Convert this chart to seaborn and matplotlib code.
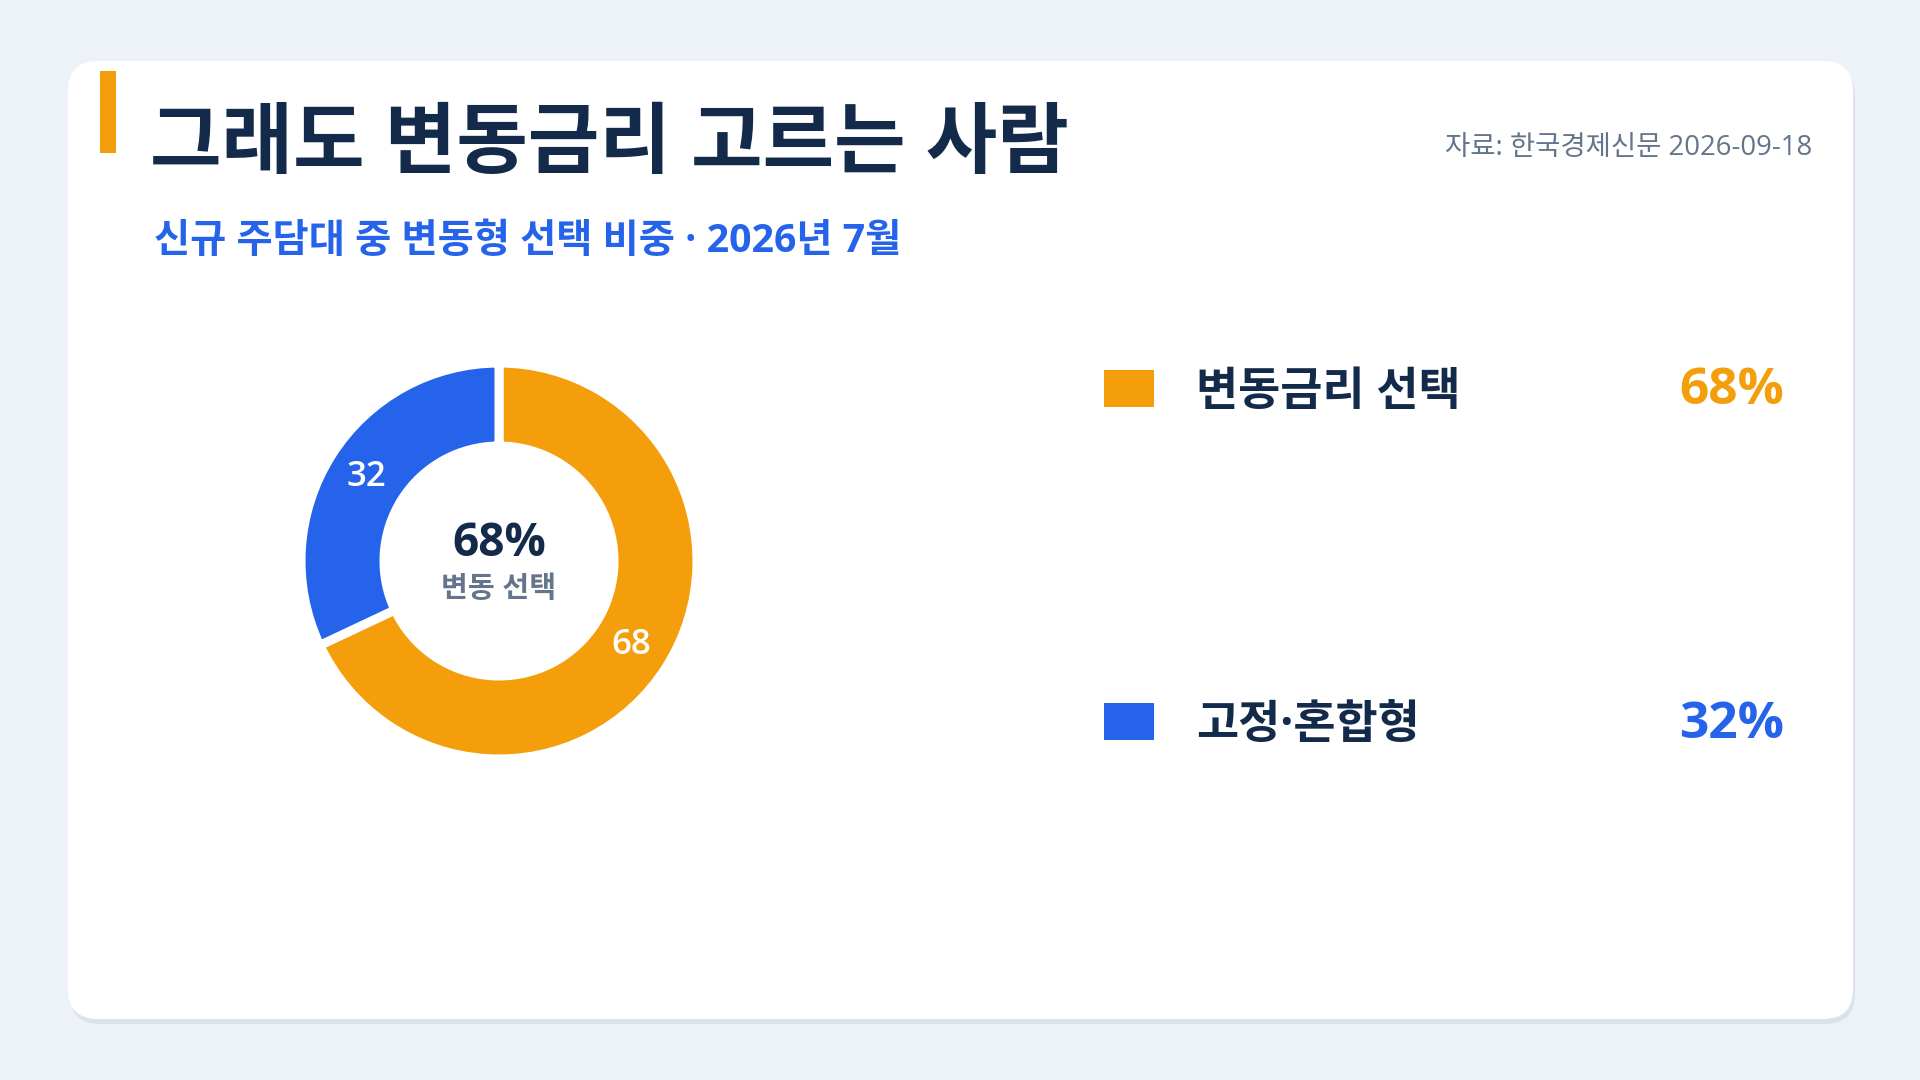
import numpy as np
import pandas as pd
import seaborn as sns
import matplotlib.pyplot as plt
from matplotlib.patches import FancyBboxPatch, Rectangle

# 데이터
labels = ['변동금리 선택', '고정·혼합형']
values = [68, 32]
colors = ['#F49E0C', '#2563EB']
title = '그래도 변동금리 고르는 사람'
subtitle = '신규 주담대 중 변동형 선택 비중 · 2026년 7월'
source = '자료: 한국경제신문 2026-09-18'
center_value = '68%'
center_label = '변동 선택'

NAVY = '#132A4A'
GRAY = '#64748B'
BG = '#EDF1F8'

sns.set_theme(style='white')
# 라틴/숫자는 Open Sans, 한글은 Noto Sans CJK KR
plt.rcParams['font.family'] = ['Open Sans', 'Noto Sans CJK KR', 'DejaVu Sans']

fig = plt.figure(figsize=(19.2, 10.8), dpi=100, facecolor=BG)

# 배경 (픽셀 좌표)
bg = fig.add_axes([0, 0, 1, 1])
bg.set_xlim(0, 1920)
bg.set_ylim(1080, 0)
bg.axis('off')

# 카드 + 그림자
bg.add_patch(FancyBboxPatch((70, 66), 1785, 958, boxstyle='round,pad=0,rounding_size=30',
                            fc='#DCE2EC', ec='none'))
bg.add_patch(FancyBboxPatch((68, 61), 1785, 958, boxstyle='round,pad=0,rounding_size=30',
                            fc='white', ec='none'))
bg.add_patch(Rectangle((100, 71), 16, 82, fc=colors[0], ec='none'))

# 제목들
bg.text(150, 146, title, fontsize=56, fontweight='bold', color=NAVY, ha='left', va='center')
bg.text(154, 241, subtitle, fontsize=28.3, fontweight='bold', color=colors[1], ha='left', va='center')
bg.text(1812, 148, source, fontsize=19.8, color=GRAY, ha='right', va='center')

# 도넛 차트
ax = fig.add_axes([(499 - 200) / 1920, 1 - (561 + 200) / 1080, 400 / 1920, 400 / 1080])
wedges, texts, autotexts = ax.pie(
    values, colors=colors, startangle=90, counterclock=False, radius=0.99,
    autopct='%.0f', pctdistance=0.79,
    wedgeprops=dict(width=0.415, edgecolor='white', linewidth=6.5),
    textprops=dict(color='white', fontsize=25, fontweight='semibold'))
ax.set_xlim(-1, 1)
ax.set_ylim(-1, 1)
ax.text(0, 0.09, center_value, ha='center', va='center', fontsize=33,
        fontweight='bold', color=NAVY)
ax.text(0, -0.145, center_label, ha='center', va='center', fontsize=21,
        fontweight='bold', color=GRAY)

# 범례 (오른쪽)
leg = fig.add_axes([1080 / 1920, 1 - 780 / 1080, 720 / 1920, 450 / 1080])
df = pd.DataFrame({'label': labels, 'x': [0] * len(labels), 'value': values})
rect = [(-1.32, -1), (1.32, -1), (1.32, 1), (-1.32, 1)]
sns.scatterplot(data=df, x='x', y='label', hue='label', palette=colors, marker=rect,
                s=1246, linewidth=0, legend=False, ax=leg)
leg.set_xlim(-49, 671)
leg.set_ylim(1.174, -0.174)
leg.axis('off')
for i, row in df.iterrows():
    leg.text(67, i + 0.012, row['label'], fontsize=33, fontweight='bold', color=NAVY,
             ha='left', va='center')
    leg.text(655, i + 0.008, f"{row['value']}%", fontsize=37, fontweight='bold',
             color=colors[i], ha='right', va='center')

fig.savefig('out.png', dpi=100, facecolor=BG)
